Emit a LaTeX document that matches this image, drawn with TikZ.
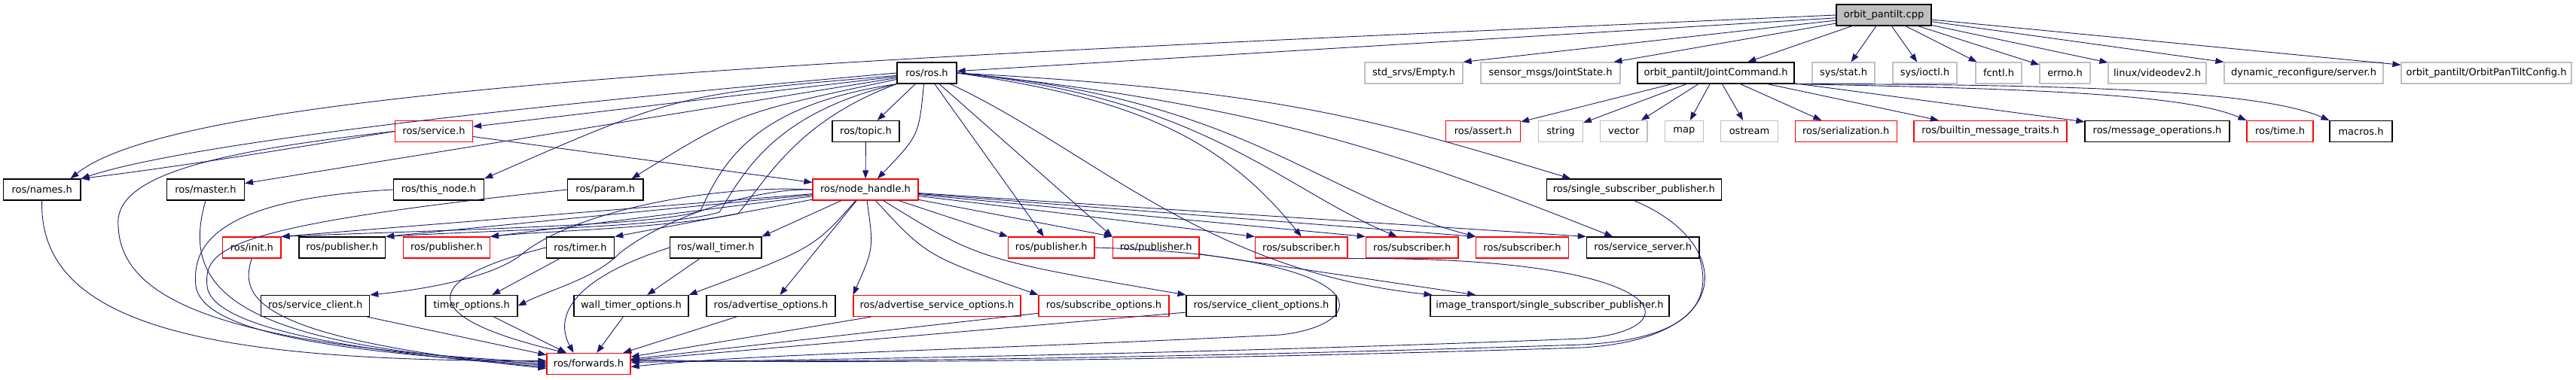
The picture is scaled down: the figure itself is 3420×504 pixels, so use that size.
\documentclass[tikz,border=0pt]{standalone}
\usepackage{fontspec}
\setmainfont{DejaVu Sans}
\usetikzlibrary{arrows.meta, positioning}
\definecolor{edgeblue}{HTML}{191970}
\definecolor{boxgrey}{HTML}{BFBFBF}
\begin{document}
\begin{tikzpicture}[x=1pt, y=-1pt,
  hdr/.style={draw, line width=1.2pt, minimum height=28pt, inner sep=0pt, font=\fontsize{13}{15}\selectfont},
  redhdr/.style={hdr, draw=red},
  sysinc/.style={hdr, draw=boxgrey},
  edge/.style={-{Triangle[length=11pt,width=8pt]}, line width=0.9pt, draw=edgeblue}
]
\useasboundingbox (0,0) rectangle (3420,504);

% row 1
\node[hdr, fill=boxgrey, minimum width=126pt] (cpp) at (2501,20) {orbit\_pantilt.cpp};
% row 2
\node[hdr, minimum width=79pt] (ros) at (1230.5,97) {ros/ros.h};
\node[sysinc, minimum width=130pt] (empty) at (1877,97) {std\_srvs/Empty.h};
\node[sysinc, minimum width=185pt] (jstate) at (2058.5,97) {sensor\_msgs/JointState.h};
\node[hdr, minimum width=208pt] (jcmd) at (2278,97) {orbit\_pantilt/JointCommand.h};
\node[sysinc, minimum width=83pt] (stat) at (2447.5,97) {sys/stat.h};
\node[sysinc, minimum width=85pt] (ioctl) at (2555.5,97) {sys/ioctl.h};
\node[sysinc, minimum width=61pt] (fcntl) at (2653.5,97) {fcntl.h};
\node[sysinc, minimum width=67pt] (errno) at (2741.5,97) {errno.h};
\node[sysinc, minimum width=130pt] (vdev) at (2864,97) {linux/videodev2.h};
\node[sysinc, minimum width=211pt] (dynsrv) at (3058.5,97) {dynamic\_reconfigure/server.h};
\node[sysinc, minimum width=226pt] (config) at (3301,97) {orbit\_pantilt/OrbitPanTiltConfig.h};
% row 3
\node[redhdr, minimum width=103pt] (service) at (576,174.5) {ros/service.h};
\node[hdr, minimum width=89pt] (topic) at (1149.5,174.5) {ros/topic.h};
\node[redhdr, minimum width=99pt] (assert) at (1969,174.5) {ros/assert.h};
\node[sysinc, minimum width=58.6pt] (string) at (2072,174.5) {string};
\node[sysinc, minimum width=62.7pt] (vector) at (2155.7,174.5) {vector};
\node[sysinc, minimum width=51pt] (map) at (2235.8,174.5) {map};
\node[sysinc, minimum width=76pt] (ostream) at (2322.5,174.5) {ostream};
\node[redhdr, minimum width=135pt] (serial) at (2450.7,174.5) {ros/serialization.h};
\node[redhdr, minimum width=203pt] (builtin) at (2642.5,174.5) {ros/builtin\_message\_traits.h};
\node[hdr, minimum width=192pt] (msgops) at (2864,174.5) {ros/message\_operations.h};
\node[redhdr, minimum width=88pt] (time) at (3027,174.5) {ros/time.h};
\node[hdr, minimum width=83pt] (macros) at (3134.5,174.5) {macros.h};
% row 4
\node[hdr, minimum width=102.7pt] (names) at (55.7,252) {ros/names.h};
\node[hdr, minimum width=102.7pt] (master) at (273,252) {ros/master.h};
\node[hdr, minimum width=120.3pt] (thisnode) at (582.5,252) {ros/this\_node.h};
\node[hdr, minimum width=100.3pt] (param) at (803.8,252) {ros/param.h};
\node[redhdr, minimum width=140pt] (nh) at (1149,252) {ros/node\_handle.h};
\node[hdr, minimum width=232pt] (ssp) at (2169.3,252) {ros/single\_subscriber\_publisher.h};
% row 5
\node[redhdr, minimum width=77.3pt] (init) at (334.3,329) {ros/init.h};
\node[hdr, minimum width=114.7pt] (puba) at (454.3,329) {ros/publisher.h};
\node[redhdr, minimum width=114.7pt] (pubb) at (593,329) {ros/publisher.h};
\node[hdr, minimum width=90.3pt] (timer) at (770.5,329) {ros/timer.h};
\node[hdr, minimum width=121.3pt] (wtimer) at (950.3,329) {ros/wall\_timer.h};
\node[redhdr, minimum width=114.3pt] (pubc) at (1395.8,329) {ros/publisher.h};
\node[redhdr, minimum width=114.7pt] (pubd) at (1534.7,329) {ros/publisher.h};
\node[redhdr, minimum width=122.7pt] (suba) at (1727.7,329) {ros/subscriber.h};
\node[redhdr, minimum width=122.7pt] (subb) at (1874.7,329) {ros/subscriber.h};
\node[redhdr, minimum width=122.6pt] (subc) at (2021,329) {ros/subscriber.h};
\node[hdr, minimum width=149.7pt] (srvsrv) at (2181.2,329) {ros/service\_server.h};
% row 6
\node[hdr, minimum width=144pt] (srvcli) at (418.7,406.5) {ros/service\_client.h};
\node[hdr, minimum width=122pt] (topts) at (626,406.5) {timer\_options.h};
\node[hdr, minimum width=152pt] (wtopts) at (838,406.5) {wall\_timer\_options.h};
\node[hdr, minimum width=171pt] (advopts) at (1023.5,406.5) {ros/advertise\_options.h};
\node[redhdr, minimum width=222pt] (advsrv) at (1244,406.5) {ros/advertise\_service\_options.h};
\node[redhdr, minimum width=173pt] (subopts) at (1465.5,406.5) {ros/subscribe\_options.h};
\node[hdr, minimum width=199pt] (clopts) at (1674.5,406.5) {ros/service\_client\_options.h};
\node[hdr, minimum width=317pt] (itssp) at (2057.5,406.5) {image\_transport/single\_subscriber\_publisher.h};
% row 7
\node[redhdr, minimum width=111pt] (fwd) at (781.5,483.5) {ros/forwards.h};

% orbit_pantilt.cpp
\draw[edge] (cpp.west) .. controls (1200,75) and (250,110) .. ([xshift=-14pt]names.north east);
\draw[edge] (cpp) -- (ros);
\draw[edge] (cpp) -- (empty.north east);
\foreach \t in {jstate, jcmd, stat, ioctl, fcntl, errno, vdev, dynsrv, config}
  \draw[edge] (cpp) -- (\t);

% JointCommand.h
\foreach \t in {assert, string, vector, map, ostream, serial, builtin, msgops}
  \draw[edge] (jcmd) -- (\t);
\draw[edge] (jcmd.south east) .. controls (2700,118) and (2900,125) .. (time.north west);
\draw[edge] (jcmd.south east) .. controls (2750,112) and (3000,120) .. (macros.north west);

% ros.h
\draw[edge] (ros.west) .. controls (700,140) and (250,190) .. (names.north east);
\draw[edge] (ros) -- (service);
\draw[edge] (ros) -- (master);
\draw[edge] (ros) .. controls (900,125) .. (thisnode.north east);
\draw[edge] (ros) .. controls (980,150) .. ([xshift=-16pt]param.north east);
\draw[edge] (ros) -- (topic);
\draw[edge] ([xshift=-4pt]ros.south) .. controls (1220,180) .. ([xshift=16pt]nh.north);
\draw[edge] (ros.south west) .. controls (1000,140) and (960,215) .. (930,280)
  .. controls (880,300) and (600,305) .. (init.north east);
\draw[edge] (ros.south west) .. controls (1030,150) and (990,225) .. (955,282)
  .. controls (890,302) and (650,306) .. (puba.north east);
\draw[edge] (ros.south west) .. controls (1060,160) and (1020,235) .. (980,284)
  .. controls (880,304) and (720,307) .. (pubb.north east);
\draw[edge] (ros) -- ([xshift=-10pt]pubc.north);
\draw[edge] (ros) -- (pubd.north west);
\draw[edge] (ros.east) .. controls (1500,130) and (1620,180) .. (suba.north);
\draw[edge] (ros.east) .. controls (1600,130) and (1700,250) .. ([xshift=-20pt]subb.north);
\draw[edge] (ros.east) .. controls (1650,130) and (1750,260) .. (subc.north west);
\draw[edge] (ros.east) .. controls (1700,120) and (1830,160) .. ([xshift=-84pt]ssp.north);
\draw[edge] (ros.east) .. controls (1700,140) and (1900,220) .. ([xshift=-40pt]srvsrv.north);
\draw[edge] (ros) .. controls (1450,200) and (1600,360) .. ([xshift=3pt]itssp.north west);

% ros/service.h, ros/topic.h
\draw[edge] (service.west) .. controls (400,195) and (250,220) .. (names.north east);
\draw[edge] (service) -- (nh);
\draw[edge] (topic) -- (nh);

% ros/node_handle.h
\foreach \t in {init, puba, pubb, timer, wtimer}
  \draw[edge] (nh) -- (\t.north east);
\draw[edge] (nh.west) .. controls (950,245) and (760,280) .. (690,340)
  .. controls (650,370) and (560,385) .. (srvcli.north east);
\draw[edge] (nh.west) .. controls (1000,250) and (880,290) .. (822,337)
  .. controls (790,370) and (730,385) .. (topts.east);
\draw[edge] (nh) .. controls (1080,330) .. (wtopts.north east);
\draw[edge] (nh) -- (advopts);
\draw[edge] (nh) .. controls (1160,330) .. (advsrv.north west);
\draw[edge] (nh) .. controls (1230,340) .. (subopts.north west);
\draw[edge] (nh) .. controls (1300,345) .. (clopts.north west);
\foreach \t in {pubc, pubd, suba, subb, subc, srvsrv}
  \draw[edge] (nh) -- (\t.north west);

% ros/timer.h, ros/wall_timer.h
\draw[edge] (timer) -- (topts);
\draw[edge] (wtimer) -- (wtopts);

% everything that reaches ros/forwards.h
\draw[edge] (names.south) .. controls (50,440) and (300,480) .. ([yshift=4pt]fwd.west);
\draw[edge] (service.west) .. controls (300,200) and (150,230) .. (157,300)
  .. controls (160,400) and (300,460) .. ([yshift=2pt]fwd.west);
\draw[edge] (master.south) .. controls (240,380) and (300,460) .. (fwd.west);
\draw[edge] (thisnode.west) .. controls (280,265) and (255,330) .. (260,380)
  .. controls (270,450) and (500,470) .. ([yshift=-2pt]fwd.west);
\draw[edge] (param.west) .. controls (300,300) and (270,330) .. (275,380)
  .. controls (280,440) and (500,470) .. ([yshift=-4pt]fwd.west);
\draw[edge] (init.south) .. controls (315,400) and (350,450) .. ([yshift=-6pt]fwd.west);
\draw[edge] (srvcli) -- (fwd);
\draw[edge] (timer.west) .. controls (560,370) and (545,420) .. ([xshift=-30pt]fwd.north);
\draw[edge] (wtimer.west) .. controls (760,370) and (735,420) .. ([xshift=-20pt]fwd.north);
\draw[edge] (topts) -- (fwd);
\draw[edge] (wtopts) -- (fwd);
\draw[edge] (advopts) -- (fwd);
\draw[edge] (advsrv) -- (fwd);
\draw[edge] (subopts) -- (fwd);
\draw[edge] (clopts) -- (fwd);
\draw[edge] (pubc.east) .. controls (1830,340) and (1830,430) .. (1700,445)
  .. controls (1300,465) and (1000,470) .. ([yshift=-4pt]fwd.east);
\draw[edge] (suba.south east) .. controls (2230,340) and (2250,440) .. (2100,450)
  .. controls (1600,470) and (1100,478) .. ([yshift=2pt]fwd.east);
\draw[edge] (srvsrv.south east) .. controls (2270,390) and (2260,450) .. (2100,458)
  .. controls (1600,475) and (1100,482) .. ([yshift=4pt]fwd.east);
\draw[edge] (ssp.south) .. controls (2300,320) and (2310,450) .. (2100,462)
  .. controls (1600,478) and (1100,485) .. ([yshift=6pt]fwd.east);
\draw[edge] (pubd) -- (itssp);
\end{tikzpicture}
\end{document}
